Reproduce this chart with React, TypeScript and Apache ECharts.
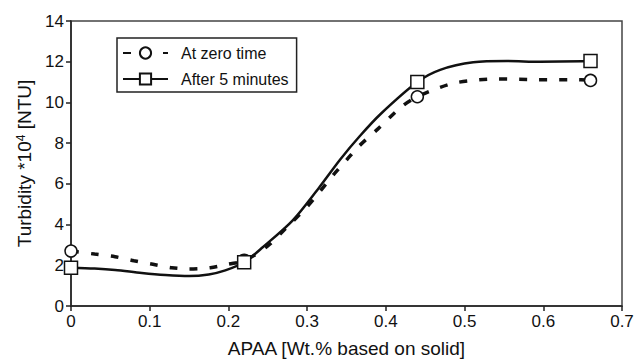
import React, { useEffect, useRef } from "react";
import * as echarts from "echarts";

// Measured points
const measuredX = [0, 0.22, 0.44, 0.66];
const zeroTime = [2.7, 2.25, 10.28, 11.08];
const after5 = [1.88, 2.15, 11.0, 12.03];

// Fitted curves
const zeroCurveX = [0, 0.03, 0.056, 0.08, 0.104, 0.128, 0.15, 0.177, 0.2, 0.22, 0.25, 0.275, 0.3, 0.316, 0.333, 0.35, 0.365, 0.39, 0.42, 0.44, 0.469, 0.492, 0.541, 0.592, 0.638, 0.66];
const zeroCurveY = [2.7, 2.55, 2.42, 2.22, 2.05, 1.88, 1.82, 1.88, 2.06, 2.22, 2.95, 3.9, 4.88, 5.61, 6.43, 7.17, 7.82, 8.7, 9.79, 10.28, 10.74, 10.99, 11.15, 11.12, 11.12, 11.1];
const after5CurveX = [0, 0.03, 0.056, 0.09, 0.12, 0.15, 0.175, 0.196, 0.22, 0.244, 0.282, 0.316, 0.342, 0.367, 0.393, 0.44, 0.469, 0.511, 0.554, 0.596, 0.66];
const after5CurveY = [1.88, 1.84, 1.77, 1.62, 1.52, 1.47, 1.55, 1.75, 2.15, 2.9, 4.22, 5.86, 7.2, 8.35, 9.42, 11.0, 11.6, 11.97, 12.03, 12.0, 12.03];

const xTicks = [0, 0.1, 0.2, 0.3, 0.4, 0.5, 0.6, 0.7];
const yTicks = [0, 2, 4, 6, 8, 10, 12, 14];

const FONT = "'Liberation Sans', Arial, sans-serif";
const INK = "#111";

export default function App() {
  const ref = useRef<HTMLDivElement>(null);
  useEffect(() => {
    if (!ref.current) return;
    const chart = echarts.init(ref.current, null, { renderer: "svg" });
    const markerStyle = { color: "#fff", borderColor: INK, borderWidth: 1.5, opacity: 1 };
    chart.setOption({
      animation: false,
      backgroundColor: "#fff",
      textStyle: { fontFamily: FONT, color: INK },
      grid: {
        left: 71,
        right: 13,
        top: 21,
        bottom: 57,
        containLabel: false,
        outerBoundsMode: "none",
        show: true,
        borderColor: "#444",
        borderWidth: 1.5,
        backgroundColor: "transparent",
      },
      legend: {
        orient: "vertical",
        left: 117,
        top: 38,
        padding: [7, 8, 5, 5],
        itemGap: 10,
        itemWidth: 45,
        itemHeight: 14,
        borderColor: "#222",
        borderWidth: 1.5,
        backgroundColor: "#fff",
        data: [{ name: "At zero time" }, { name: "After 5 minutes" }],
        textStyle: { fontFamily: FONT, fontSize: 16, color: INK, padding: [0, 0, 0, 8] },
      },
      xAxis: {
        type: "value",
        min: xTicks[0],
        max: xTicks[xTicks.length - 1],
        interval: 0.1,
        name: "APAA [Wt.% based on solid]",
        nameLocation: "middle",
        nameGap: 33,
        nameTextStyle: { fontFamily: FONT, fontSize: 19, color: INK },
        axisLine: { show: true, lineStyle: { color: "#222", width: 1.5 } },
        axisTick: { show: true, inside: false, length: 5, lineStyle: { color: "#222", width: 1.5 } },
        axisLabel: { fontFamily: FONT, fontSize: 17, color: INK, margin: 7, formatter: (v: number) => String(Math.round(v * 10) / 10) },
        splitLine: { show: false },
      },
      yAxis: {
        type: "value",
        min: yTicks[0],
        max: yTicks[yTicks.length - 1],
        interval: 2,
        name: "{a|Turbidity *10}{s|4}{a| [NTU]}",
        nameLocation: "middle",
        nameGap: 33,
        nameRotate: 90,
        nameTextStyle: {
          fontFamily: FONT,
          fontSize: 19,
          color: INK,
          rich: {
            a: { fontFamily: FONT, fontSize: 19, color: INK },
            s: { fontFamily: FONT, fontSize: 12, color: INK, verticalAlign: "top", padding: [0, 0, 8, 0] },
          },
        },
        axisLine: { show: true, lineStyle: { color: "#222", width: 1.5 } },
        axisTick: { show: true, inside: false, length: 5, lineStyle: { color: "#222", width: 1.5 } },
        axisLabel: { fontFamily: FONT, fontSize: 17, color: INK, margin: 7 },
        splitLine: { show: false },
      },
      series: [
        {
          name: "At zero time",
          type: "line",
          data: zeroCurveX.map((x, i) => [x, zeroCurveY[i]]),
          smooth: 0.3,
          showSymbol: false,
          symbol: "circle",
          symbolSize: 12,
          lineStyle: { color: INK, width: 3.5, type: [8, 12] },
          itemStyle: markerStyle,
          z: 2,
        },
        {
          name: "After 5 minutes",
          type: "line",
          data: after5CurveX.map((x, i) => [x, after5CurveY[i]]),
          smooth: 0.3,
          showSymbol: false,
          symbol: "rect",
          symbolSize: 13,
          lineStyle: { color: INK, width: 2.5, type: "solid" },
          itemStyle: markerStyle,
          z: 2,
        },
        {
          name: "zero-markers",
          type: "scatter",
          data: measuredX.map((x, i) => [x, zeroTime[i]]),
          symbol: "circle",
          symbolSize: 12,
          itemStyle: markerStyle,
          z: 3,
        },
        {
          name: "after5-markers",
          type: "scatter",
          data: measuredX.map((x, i) => [x, after5[i]]),
          symbol: "rect",
          symbolSize: 13,
          itemStyle: markerStyle,
          z: 4,
        },
      ],
    });
    return () => chart.dispose();
  }, []);
  return <div ref={ref} style={{ width: 635, height: 363, position: "absolute", left: 0, top: 0 }} />;
}
